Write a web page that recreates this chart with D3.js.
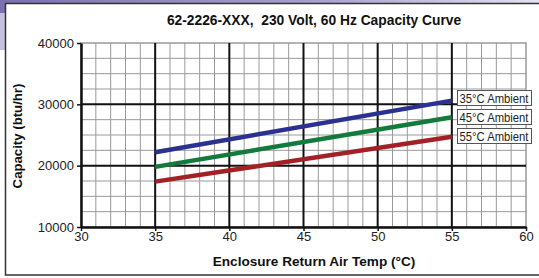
<!DOCTYPE html>
<html>
<head>
<meta charset="utf-8">
<script src="https://cdn.jsdelivr.net/npm/d3@7"></script>
<style>
  html, body { margin: 0; padding: 0; background: #fff; }
  svg { display: block; font-family: Arial, "Liberation Sans", sans-serif; }
</style>
</head>
<body>
<svg id="chart"></svg>
<script>
const title = "62-2226-XXX,  230 Volt, 60 Hz Capacity Curve";
const xLabel = "Enclosure Return Air Temp (\u00B0C)";
const yLabel = "Capacity (btu/hr)";
const xTicks = [30, 35, 40, 45, 50, 55, 60];
const yTicks = [10000, 20000, 30000, 40000];
const temps = [35, 55];
const series = ["35\u00B0C Ambient", "45\u00B0C Ambient", "55\u00B0C Ambient"];
const capacity35 = [22200, 30600];
const capacity45 = [19800, 27900];
const capacity55 = [17400, 24700];
const colors = ["#2b3190", "#127a3a", "#a32126"];

(() => {
  const width = 539;
  const height = 278;
  const plot = { left: 81, right: 526, top: 43, bottom: 227 };

  const svg = d3.select("#chart").attr("width", width).attr("height", height);

  // slide background bits
  const defs = svg.append("defs");
  const grad = defs.append("linearGradient").attr("id", "band").attr("x1", 0).attr("x2", 1);
  grad.append("stop").attr("offset", 0).attr("stop-color", "#7b70b0");
  grad.append("stop").attr("offset", 0.6).attr("stop-color", "#a9a2cf");
  grad.append("stop").attr("offset", 1).attr("stop-color", "#e4e1f0");
  svg.append("rect").attr("x", 0).attr("y", 0).attr("width", width).attr("height", 4).attr("fill", "url(#band)");
  svg.append("rect").attr("x", 0).attr("y", 0).attr("width", 6).attr("height", 13).attr("fill", "#7b70b0");
  svg.append("rect").attr("x", 0).attr("y", 13).attr("width", 6).attr("height", 37).attr("fill", "#c5c0e0");

  // chart box
  svg.append("rect")
    .attr("x", 5.5).attr("y", 3.5)
    .attr("width", width).attr("height", 271.5)
    .attr("fill", "#fff").attr("stroke", "#333").attr("stroke-width", 1.5);

  const x = d3.scaleLinear().domain([30, 60]).range([plot.left, plot.right]);
  const y = d3.scaleLinear().domain([10000, 40000]).range([plot.bottom, plot.top]);

  const g = svg.append("g");

  // minor grid
  g.selectAll("line.vminor")
    .data(d3.range(31, 60).filter((d) => d % 5 !== 0))
    .join("line")
    .attr("x1", (d) => x(d)).attr("x2", (d) => x(d))
    .attr("y1", plot.top).attr("y2", plot.bottom)
    .attr("stroke", "#9a9a9a").attr("stroke-width", 1);

  g.selectAll("line.hminor")
    .data(d3.range(12500, 40000, 2500).filter((d) => d % 10000 !== 0))
    .join("line")
    .attr("x1", plot.left).attr("x2", plot.right)
    .attr("y1", (d) => y(d)).attr("y2", (d) => y(d))
    .attr("stroke", "#9a9a9a").attr("stroke-width", 1);

  // plot border top and right
  g.append("rect")
    .attr("x", plot.left).attr("y", plot.top)
    .attr("width", plot.right - plot.left).attr("height", plot.bottom - plot.top)
    .attr("fill", "none").attr("stroke", "#9a9a9a").attr("stroke-width", 1.5);

  // major grid
  g.selectAll("line.vmajor")
    .data(xTicks.slice(1, -1))
    .join("line")
    .attr("x1", (d) => x(d)).attr("x2", (d) => x(d))
    .attr("y1", plot.top).attr("y2", plot.bottom)
    .attr("stroke", "#111").attr("stroke-width", 2);

  g.selectAll("line.hmajor")
    .data(yTicks.slice(1, -1))
    .join("line")
    .attr("x1", plot.left).attr("x2", plot.right)
    .attr("y1", (d) => y(d)).attr("y2", (d) => y(d))
    .attr("stroke", "#111").attr("stroke-width", 2);

  // axes
  const xAxis = d3.axisBottom(x).tickValues(xTicks).tickSize(4).tickSizeOuter(0);
  const yAxis = d3.axisLeft(y).tickValues(yTicks).tickSize(4).tickSizeOuter(0).tickFormat(d3.format("d"));

  const gx = svg.append("g").attr("transform", `translate(0,${plot.bottom})`).call(xAxis);
  const gy = svg.append("g").attr("transform", `translate(${plot.left},0)`).call(yAxis);

  [gx, gy].forEach((a) => {
    a.select(".domain").attr("stroke", "#111").attr("stroke-width", 2.5);
    a.selectAll(".tick line").attr("stroke", "#111").attr("stroke-width", 1.5);
    a.selectAll(".tick text")
      .attr("fill", "#222")
      .style("font-size", "13px")
      .style("font-family", "Arial, 'Liberation Sans', sans-serif");
  });
  gx.selectAll(".tick text").attr("dy", "0.55em");
  gy.selectAll(".tick text").attr("x", -7);

  // series lines
  const allSeries = [capacity35, capacity45, capacity55];
  const line = d3.line().x((d) => x(d[0])).y((d) => y(d[1]));

  allSeries.forEach((vals, i) => {
    svg.append("path")
      .datum(temps.map((t, j) => [t, vals[j]]))
      .attr("d", line)
      .attr("fill", "none")
      .attr("stroke", colors[i])
      .attr("stroke-width", 4.5);
  });

  // legend boxes
  const leg = svg.append("g").attr("transform", `translate(457,90)`);
  series.forEach((name, i) => {
    const row = leg.append("g").attr("transform", `translate(0,${i * 19})`);
    row.append("rect")
      .attr("x", 0.5).attr("y", 0.5)
      .attr("width", 74).attr("height", 15)
      .attr("fill", "#fff").attr("stroke", "#555").attr("stroke-width", 1);
    row.append("text")
      .attr("x", 2.5).attr("y", 12.5)
      .attr("fill", "#222")
      .attr("textLength", 69)
      .attr("lengthAdjust", "spacingAndGlyphs")
      .style("font-size", "13px")
      .text(name);
  });

  // titles
  svg.append("text")
    .attr("x", 314).attr("y", 25)
    .attr("text-anchor", "middle")
    .style("font-size", "13.8px").style("font-weight", "bold")
    .attr("fill", "#111")
    .attr("xml:space", "preserve")
    .text(title);

  svg.append("text")
    .attr("x", 314).attr("y", 266)
    .attr("text-anchor", "middle")
    .style("font-size", "13.6px").style("font-weight", "bold")
    .attr("fill", "#111")
    .text(xLabel);

  svg.append("text")
    .attr("transform", "translate(22,136) rotate(-90)")
    .attr("text-anchor", "middle")
    .style("font-size", "13.2px").style("font-weight", "bold")
    .attr("fill", "#111")
    .text(yLabel);
})();
</script>
</body>
</html>
